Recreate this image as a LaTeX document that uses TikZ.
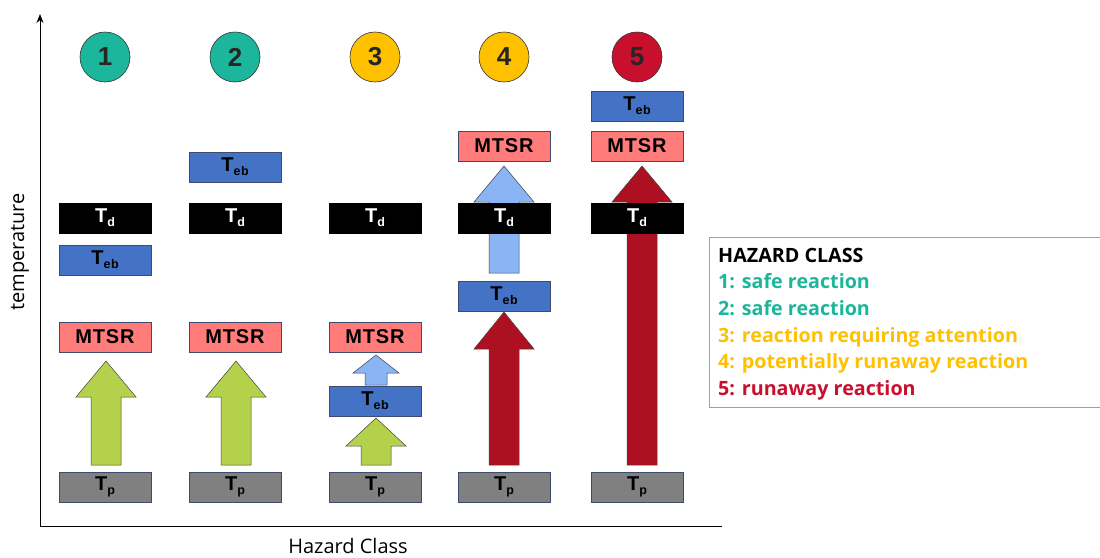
\documentclass[tikz,border=0pt]{standalone}
\usepackage{fontspec}
\setmainfont{Liberation Sans}
\newfontfamily\labelfont{Open Sans}
\newfontfamily\legendfont{Open Sans}[BoldFont={* Bold}]
\newfontfamily\boxfont{Liberation Sans}[LetterSpace=4]
\usetikzlibrary{arrows.meta}

\definecolor{teal1}{HTML}{1BB69B}
\definecolor{amber}{HTML}{FFC000}
\definecolor{crimson}{HTML}{C8102E}
\definecolor{lime}{HTML}{B4D14C}
\definecolor{darkred}{HTML}{AD1121}
\definecolor{skyblue}{HTML}{8AB4F4}
\definecolor{tebblue}{HTML}{4472C4}
\definecolor{salmon}{HTML}{FF7C7A}
\definecolor{tpgray}{HTML}{808080}
\definecolor{boxedge}{HTML}{3E4A6E}
\definecolor{legendedge}{HTML}{A0A0A0}

\newcommand{\Tsub}[1]{T\raisebox{-0.35ex}{\fontsize{12.5}{13}\selectfont #1}}

% block arrow: fill, centre x, bottom y, head-base y, tip y, shaft half width, head half width
\newcommand{\blockarrow}[7]{%
  \filldraw[fill=#1, draw=black!75, line width=0.5pt]
    (#2-#6,#3) -- (#2-#6,#4) -- (#2-#7,#4) -- (#2,#5) -- (#2+#7,#4)
    -- (#2+#6,#4) -- (#2+#6,#3) -- cycle;}

\begin{document}
\begin{tikzpicture}[x=1pt,y=-1pt,
  level/.style={draw=boxedge, line width=0.6pt, minimum width=92pt,
    minimum height=30pt, inner sep=0pt, font=\boxfont\fontsize{20}{20}\bfseries},
  tpbox/.style={level, fill=tpgray, text=black},
  mtsrbox/.style={level, fill=salmon, text=black},
  tebbox/.style={level, fill=tebblue, text=black},
  tdbox/.style={level, draw=black, fill=black, text=white},
  classmark/.style={circle, draw=black!80, line width=0.6pt, minimum size=50pt,
    inner sep=0pt, font=\fontsize{26}{26}\bfseries, text=black!85},
  legendline/.style={anchor=base west, inner sep=0pt, font=\legendfont\fontsize{19.7}{20}\bfseries}
]
\useasboundingbox (0,0) rectangle (1100,557);

% axes
\coordinate (origin) at (40,526);
\coordinate (ytop) at (40,14);
\coordinate (xend) at (722,526);
\draw[line width=1pt, -{Stealth[length=9pt,width=7pt]}] (origin) -- (ytop);
\draw[line width=1pt] (origin) -- (xend);
\node[rotate=90, font=\labelfont\fontsize{20}{20}\selectfont] (ylab) at (20,252) {temperature};
\node[font=\labelfont\fontsize{20}{20}\selectfont] (xlab) at (348,546) {Hazard Class};

% class markers
\node[classmark, fill=teal1] (c1) at (105,57) {1};
\node[classmark, fill=teal1] (c2) at (235,57) {2};
\node[classmark, fill=amber] (c3) at (375,57) {3};
\node[classmark, fill=amber] (c4) at (504,57) {4};
\node[classmark, fill=crimson] (c5) at (637,57) {5};

% arrows (drawn below the level boxes)
\blockarrow{lime}{106}{465}{397}{361}{15}{30}
\blockarrow{lime}{236}{465}{397}{361}{15}{30}
\blockarrow{lime}{376}{465}{446}{418}{15}{30}
\blockarrow{skyblue}{376}{385}{373}{355}{11}{23}
\blockarrow{darkred}{504}{465}{349}{312}{15}{30}
\blockarrow{skyblue}{504}{273}{202}{166}{15}{30}
\blockarrow{darkred}{642}{465}{202}{166}{15}{30}

% class 1
\node[tpbox]   (tp1)   at (105,487) {\Tsub{p}};
\node[mtsrbox] (mtsr1) at (105,337) {MTSR};
\node[tebbox]  (teb1)  at (105,260) {\Tsub{eb}};
\node[tdbox]   (td1)   at (105,218) {\Tsub{d}};
% class 2
\node[tpbox]   (tp2)   at (235,487) {\Tsub{p}};
\node[mtsrbox] (mtsr2) at (235,337) {MTSR};
\node[tdbox]   (td2)   at (235,218) {\Tsub{d}};
\node[tebbox]  (teb2)  at (235,167) {\Tsub{eb}};
% class 3
\node[tpbox]   (tp3)   at (375,487) {\Tsub{p}};
\node[tebbox]  (teb3)  at (375,401) {\Tsub{eb}};
\node[mtsrbox] (mtsr3) at (375,337) {MTSR};
\node[tdbox]   (td3)   at (375,218) {\Tsub{d}};
% class 4
\node[tpbox]   (tp4)   at (504,487) {\Tsub{p}};
\node[tebbox]  (teb4)  at (504,296) {\Tsub{eb}};
\node[tdbox]   (td4)   at (504,218) {\Tsub{d}};
\node[mtsrbox] (mtsr4) at (504,146) {MTSR};
% class 5
\node[tpbox]   (tp5)   at (637,487) {\Tsub{p}};
\node[tdbox]   (td5)   at (637,218) {\Tsub{d}};
\node[mtsrbox] (mtsr5) at (637,146) {MTSR};
\node[tebbox]  (teb5)  at (637,106) {\Tsub{eb}};

% legend
\draw[legendedge, line width=0.8pt] (1101,237) -- (709,237) -- (709,407) -- (1101,407);
\node[legendline, text=black]   (lg0) at (718,262) {HAZARD CLASS};
\node[legendline, text=teal1]   (lg1) at (718,288) {1: safe reaction};
\node[legendline, text=teal1]   (lg2) at (718,315) {2: safe reaction};
\node[legendline, text=amber]   (lg3) at (718,342) {3: reaction requiring attention};
\node[legendline, text=amber]   (lg4) at (718,368) {4: potentially runaway reaction};
\node[legendline, text=crimson] (lg5) at (718,395) {5: runaway reaction};
\end{tikzpicture}
\end{document}
